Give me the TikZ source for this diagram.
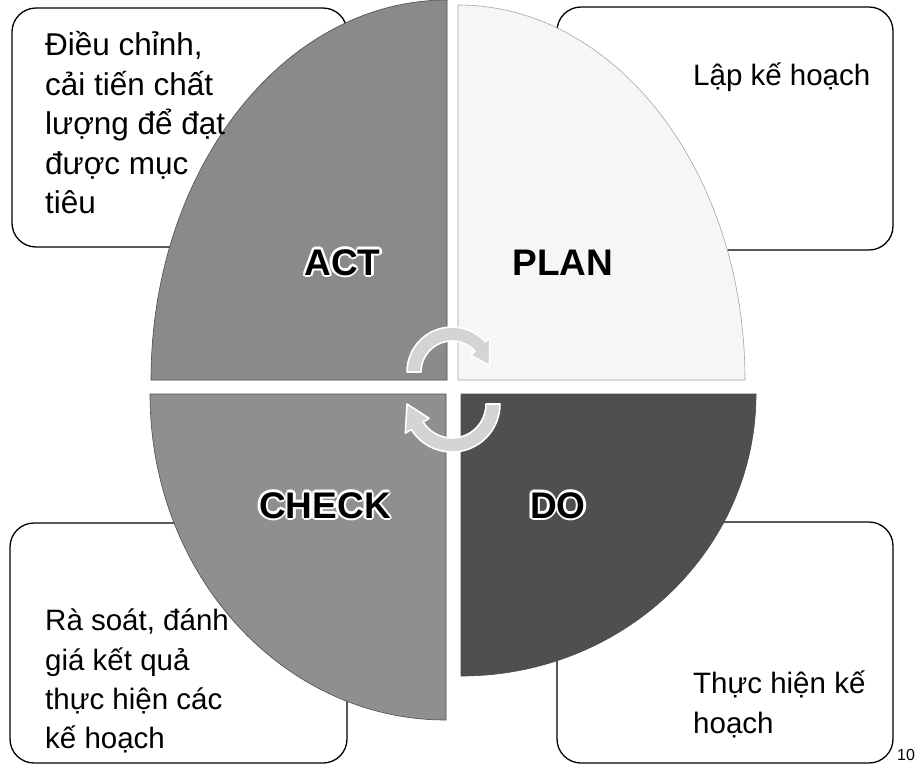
\documentclass[tikz,border=0pt]{standalone}
\usepackage{fontspec}
\setmainfont{Liberation Sans}
\usetikzlibrary{calc}
\definecolor{actgray}{HTML}{8A8A8A}
\definecolor{plangray}{HTML}{F6F6F6}
\definecolor{checkgray}{HTML}{8F8F8F}
\definecolor{dogray}{HTML}{4F4F4F}
\definecolor{arrowgray}{HTML}{D4D4D4}
\newcommand\halotext[1]{%
  \leavevmode
  \rlap{\color{white}\kern-2.4pt#1}%
  \rlap{\color{white}\kern2.4pt#1}%
  \rlap{\color{white}\raisebox{2.4pt}{#1}}%
  \rlap{\color{white}\raisebox{-2.4pt}{#1}}%
  \rlap{\color{white}\kern-1.7pt\raisebox{1.7pt}{#1}}%
  \rlap{\color{white}\kern1.7pt\raisebox{1.7pt}{#1}}%
  \rlap{\color{white}\kern-1.7pt\raisebox{-1.7pt}{#1}}%
  \rlap{\color{white}\kern1.7pt\raisebox{-1.7pt}{#1}}%
  #1}
\begin{document}
\begin{tikzpicture}[x=1pt,y=-1pt,
  box/.style={draw=black, line width=1.3pt, rounded corners=24pt, fill=white, inner sep=0pt},
  boxtext/.style={anchor=base west, inner sep=0pt, font=\fontsize{29.5}{36}\selectfont},
  bigtext/.style={anchor=base west, inner sep=0pt, font=\fontsize{31.5}{36}\selectfont},
  quadlabel/.style={anchor=base, inner sep=0pt, font=\fontsize{37}{40}\selectfont\bfseries},
  quadedge/.style={draw=black!70, line width=0.6pt},
  cyclearrow/.style={fill=arrowgray, draw=white, line width=1.6pt, line join=round}]
\clip (0,0) rectangle (917,764);
\fill[white] (0,0) rectangle (917,764);
% boxes (behind the circle)
\node[box, minimum width=335pt, minimum height=239pt] (boxA) at (179.5,127.5) {};
\node[box, minimum width=336pt, minimum height=243pt] (boxP) at (725,128.5) {};
\node[box, minimum width=337pt, minimum height=240pt] (boxC) at (178.5,643) {};
\node[box, minimum width=336pt, minimum height=241pt] (boxD) at (725,642.5) {};
% quadrants
\fill[actgray, quadedge] (447,380) -- (151,380)
  arc[start angle=180, end angle=270, x radius=296, y radius=380] -- cycle;
\fill[plangray, draw=black!35, line width=0.6pt] (458,380) -- (458,5)
  arc[start angle=270, end angle=360, x radius=287, y radius=375] -- cycle;
\fill[checkgray, quadedge] (446,394) -- (446,720)
  arc[start angle=90, end angle=180, x radius=296, y radius=326] -- cycle;
\fill[dogray, quadedge] (461,394) -- (756,394)
  arc[start angle=0, end angle=90, x radius=295, y radius=282] -- cycle;
% cycle arrows
\coordinate (c1) at (452,372);
\coordinate (c2) at (452,404);
\path[cyclearrow] ($(c1)+(180:45)$)
  arc[start angle=180, end angle=318, radius=45]
  -- ($(c1)+(318:51)$) -- ($(c1)+(350:38)$) -- ($(c1)+(318:25)$)
  -- ($(c1)+(318:31)$)
  arc[start angle=318, end angle=180, radius=31] -- cycle;
\path[cyclearrow] ($(c2)+(0:48)$)
  arc[start angle=0, end angle=148, radius=48]
  -- ($(c2)+(148:55)$) -- ($(c2)+(180:45)$) -- ($(c2)+(148:27)$)
  -- ($(c2)+(148:34)$)
  arc[start angle=148, end angle=0, radius=34] -- cycle;
% quadrant labels
\node[quadlabel] (actlabel) at (342.5,275) {\halotext{ACT}};
\node[quadlabel] (planlabel) at (563,275) {PLAN};
\node[quadlabel] (checklabel) at (325,518) {\halotext{CHECK}};
\node[quadlabel] (dolabel) at (558,518) {\halotext{DO}};
% box texts
\node[bigtext] (a1) at (45,55) {Điều chỉnh,};
\node[bigtext] (a2) at (45,95) {cải tiến chất};
\node[bigtext] (a3) at (45,134) {lượng để đạt};
\node[bigtext] (a4) at (45,174) {được mục};
\node[bigtext] (a5) at (45,213) {tiêu};
\node[boxtext] (p1) at (693,85) {Lập kế hoạch};
\node[boxtext] (c1t) at (45,630) {Rà soát, đánh};
\node[boxtext] (c2t) at (45,670) {giá kết quả};
\node[boxtext] (c3t) at (45,709) {thực hiện các};
\node[boxtext] (c4t) at (45,748) {kế hoạch};
\node[boxtext] (d1) at (693,693) {Thực hiện kế};
\node[boxtext] (d2) at (693,733) {hoạch};
\node[anchor=base west, inner sep=0pt, font=\fontsize{16}{18}\selectfont] (pagenum) at (897,760) {10};
\end{tikzpicture}
\end{document}
